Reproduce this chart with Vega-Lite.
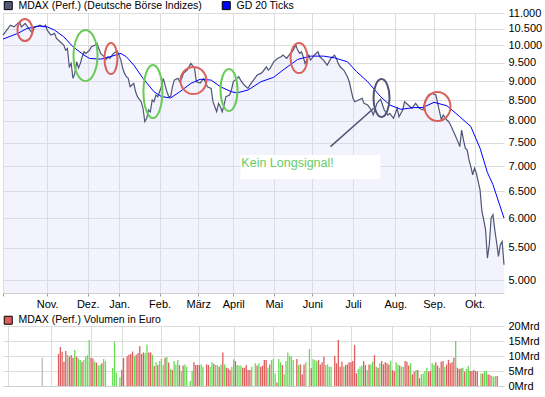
{
"$schema": "https://vega.github.io/schema/vega-lite/v6.json",
"padding": {"left": 0, "top": 0, "right": 0, "bottom": 0},
"background": "white",
"config": {"view": {"stroke": null}, "font": "Liberation Sans"},
"spacing": 33,
"bounds": "flush",
"resolve": {"scale": {"color": "independent", "x": "independent"}, "legend": {"color": "independent"}},
"datasets": {
"legendItems": [{"name": "MDAX (Perf.) (Deutsche Börse Indizes)"}, {"name": "GD 20 Ticks"}],
"price": [
{"t":0,"v":10305},{"t":4,"v":10613},{"t":6,"v":10560},{"t":9,"v":10717},{"t":10,"v":10560},{"t":12,"v":10666},{"t":14,"v":10510},{"t":16,"v":10357},{"t":17,"v":10560},{"t":19,"v":10582},{"t":20,"v":10613},{"t":22,"v":10560},{"t":23,"v":10613},{"t":24,"v":10458},{"t":26,"v":10305},{"t":28,"v":10357},{"t":29,"v":10205},{"t":31,"v":10104},{"t":33,"v":10006},{"t":34,"v":9859},{"t":35,"v":9908},{"t":36,"v":9386},{"t":37,"v":9480},{"t":38,"v":9070},{"t":39,"v":9205},{"t":40,"v":9525},{"t":41,"v":9355},{"t":42,"v":9480},{"t":43,"v":9667},{"t":44,"v":9810},{"t":45,"v":9763},{"t":46,"v":9810},{"t":47,"v":9859},{"t":48,"v":9956},{"t":50,"v":10006},{"t":51,"v":10057},{"t":52,"v":9908},{"t":53,"v":9763},{"t":55,"v":9667},{"t":56,"v":9593},{"t":57,"v":9667},{"t":58,"v":9620},{"t":60,"v":9763},{"t":62,"v":9839},{"t":63,"v":9715},{"t":64,"v":9573},{"t":65,"v":9342},{"t":66,"v":9205},{"t":67,"v":9114},{"t":68,"v":9070},{"t":69,"v":8850},{"t":70,"v":8893},{"t":71,"v":8937},{"t":72,"v":8719},{"t":73,"v":8593},{"t":75,"v":8467},{"t":76,"v":8304},{"t":77,"v":7982},{"t":78,"v":8062},{"t":79,"v":8262},{"t":80,"v":8220},{"t":81,"v":8509},{"t":82,"v":8467},{"t":83,"v":8635},{"t":84,"v":8593},{"t":85,"v":8719},{"t":86,"v":8850},{"t":87,"v":9070},{"t":88,"v":8893},{"t":89,"v":8719},{"t":90,"v":8593},{"t":91,"v":8593},{"t":92,"v":8850},{"t":93,"v":9025},{"t":95,"v":9070},{"t":96,"v":8980},{"t":97,"v":9070},{"t":98,"v":9205},{"t":100,"v":9295},{"t":102,"v":9480},{"t":104,"v":9342},{"t":105,"v":8980},{"t":107,"v":8946},{"t":109,"v":9070},{"t":111,"v":8850},{"t":113,"v":8807},{"t":114,"v":8467},{"t":115,"v":8342},{"t":116,"v":8220},{"t":117,"v":8426},{"t":118,"v":8342},{"t":119,"v":8220},{"t":120,"v":8384},{"t":121,"v":8593},{"t":123,"v":8635},{"t":124,"v":8763},{"t":125,"v":8980},{"t":126,"v":9025},{"t":127,"v":9070},{"t":128,"v":9114},{"t":129,"v":9025},{"t":131,"v":8893},{"t":133,"v":8807},{"t":134,"v":8893},{"t":136,"v":9025},{"t":138,"v":9159},{"t":140,"v":9205},{"t":141,"v":9250},{"t":143,"v":9386},{"t":144,"v":9295},{"t":145,"v":9342},{"t":147,"v":9525},{"t":149,"v":9620},{"t":151,"v":9667},{"t":152,"v":9715},{"t":154,"v":9620},{"t":156,"v":9763},{"t":157,"v":9810},{"t":159,"v":10006},{"t":160,"v":9859},{"t":161,"v":9763},{"t":162,"v":9810},{"t":163,"v":9667},{"t":164,"v":9480},{"t":166,"v":9715},{"t":167,"v":9573},{"t":169,"v":9715},{"t":170,"v":9763},{"t":171,"v":9810},{"t":172,"v":9667},{"t":174,"v":9573},{"t":176,"v":9433},{"t":178,"v":9620},{"t":180,"v":9715},{"t":181,"v":9620},{"t":182,"v":9480},{"t":183,"v":9386},{"t":185,"v":9295},{"t":187,"v":9114},{"t":188,"v":8980},{"t":190,"v":8551},{"t":191,"v":8467},{"t":193,"v":8509},{"t":195,"v":8551},{"t":196,"v":8426},{"t":198,"v":8384},{"t":200,"v":8262},{"t":201,"v":8141},{"t":203,"v":8426},{"t":205,"v":8530},{"t":207,"v":8262},{"t":209,"v":8141},{"t":210,"v":8182},{"t":212,"v":8062},{"t":214,"v":8304},{"t":215,"v":8100},{"t":217,"v":8262},{"t":218,"v":8467},{"t":220,"v":8384},{"t":222,"v":8304},{"t":224,"v":8426},{"t":226,"v":8304},{"t":228,"v":8262},{"t":229,"v":8467},{"t":231,"v":8635},{"t":233,"v":8678},{"t":235,"v":8635},{"t":236,"v":8426},{"t":237,"v":8220},{"t":238,"v":8022},{"t":239,"v":8141},{"t":241,"v":8022},{"t":242,"v":7982},{"t":243,"v":7905},{"t":245,"v":7714},{"t":247,"v":7526},{"t":248,"v":7416},{"t":249,"v":7789},{"t":250,"v":7563},{"t":251,"v":7381},{"t":252,"v":7344},{"t":253,"v":7131},{"t":254,"v":6990},{"t":255,"v":6825},{"t":256,"v":6959},{"t":257,"v":6855},{"t":258,"v":6690},{"t":259,"v":6528},{"t":260,"v":6124},{"t":261,"v":5975},{"t":262,"v":5802},{"t":263,"v":5338},{"t":264,"v":5551},{"t":265,"v":6005},{"t":266,"v":6065},{"t":267,"v":5802},{"t":268,"v":5589},{"t":269,"v":5363},{"t":270,"v":5551},{"t":271,"v":5606},{"t":272,"v":5234}
],
"ma": [
{"t":0,"v":10184},{"t":8,"v":10357},{"t":13,"v":10510},{"t":20,"v":10582},{"t":24,"v":10560},{"t":28,"v":10458},{"t":33,"v":10254},{"t":38,"v":9956},{"t":44,"v":9715},{"t":47,"v":9620},{"t":53,"v":9600},{"t":58,"v":9667},{"t":64,"v":9763},{"t":67,"v":9667},{"t":71,"v":9433},{"t":76,"v":9070},{"t":82,"v":8719},{"t":86,"v":8597},{"t":91,"v":8560},{"t":96,"v":8719},{"t":102,"v":8937},{"t":107,"v":9045},{"t":113,"v":9025},{"t":118,"v":8850},{"t":124,"v":8719},{"t":127,"v":8690},{"t":133,"v":8763},{"t":140,"v":8980},{"t":147,"v":9100},{"t":152,"v":9295},{"t":160,"v":9593},{"t":167,"v":9686},{"t":174,"v":9686},{"t":180,"v":9637},{"t":187,"v":9525},{"t":192,"v":9250},{"t":198,"v":8980},{"t":205,"v":8593},{"t":210,"v":8384},{"t":216,"v":8279},{"t":223,"v":8321},{"t":228,"v":8325},{"t":234,"v":8451},{"t":241,"v":8367},{"t":248,"v":8101},{"t":254,"v":7866},{"t":259,"v":7381},{"t":263,"v":6870},{"t":266,"v":6630},{"t":272,"v":6005}
],
"vol": [
{"t":19,"vol":9.4,"dir":"neutral"},{"t":28,"vol":10.7,"dir":"down"},{"t":29,"vol":13.0,"dir":"down"},{"t":30,"vol":11.4,"dir":"down"},{"t":31,"vol":8.1,"dir":"down"},{"t":32,"vol":11.7,"dir":"down"},{"t":33,"vol":10.3,"dir":"up"},{"t":34,"vol":9.8,"dir":"down"},{"t":35,"vol":10.3,"dir":"down"},{"t":36,"vol":9.4,"dir":"down"},{"t":37,"vol":12.0,"dir":"up"},{"t":38,"vol":9.8,"dir":"down"},{"t":39,"vol":9.2,"dir":"up"},{"t":40,"vol":8.7,"dir":"up"},{"t":41,"vol":8.1,"dir":"down"},{"t":42,"vol":8.7,"dir":"up"},{"t":43,"vol":9.8,"dir":"up"},{"t":44,"vol":10.3,"dir":"up"},{"t":45,"vol":15.3,"dir":"up"},{"t":46,"vol":9.4,"dir":"down"},{"t":47,"vol":9.2,"dir":"down"},{"t":48,"vol":8.1,"dir":"up"},{"t":49,"vol":7.8,"dir":"down"},{"t":50,"vol":6.8,"dir":"up"},{"t":51,"vol":7.0,"dir":"up"},{"t":52,"vol":7.6,"dir":"down"},{"t":53,"vol":9.0,"dir":"up"},{"t":54,"vol":8.3,"dir":"up"},
{"t":58,"vol":6.0,"dir":"up"},{"t":59,"vol":14.9,"dir":"up"},{"t":60,"vol":4.5,"dir":"up"},{"t":62,"vol":2.9,"dir":"up"},{"t":63,"vol":5.4,"dir":"down"},{"t":64,"vol":9.3,"dir":"down"},{"t":66,"vol":9.9,"dir":"down"},{"t":67,"vol":10.4,"dir":"down"},{"t":68,"vol":10.7,"dir":"down"},{"t":69,"vol":11.5,"dir":"down"},{"t":70,"vol":9.9,"dir":"up"},{"t":71,"vol":10.4,"dir":"down"},{"t":72,"vol":11.0,"dir":"down"},{"t":73,"vol":13.3,"dir":"down"},{"t":74,"vol":10.7,"dir":"down"},{"t":75,"vol":11.2,"dir":"down"},{"t":76,"vol":11.0,"dir":"up"},{"t":77,"vol":13.8,"dir":"up"},{"t":78,"vol":11.2,"dir":"down"},{"t":79,"vol":11.2,"dir":"down"},{"t":80,"vol":10.4,"dir":"up"},
{"t":81,"vol":6.7,"dir":"down"},{"t":82,"vol":7.9,"dir":"up"},{"t":83,"vol":7.0,"dir":"down"},{"t":84,"vol":8.3,"dir":"up"},{"t":85,"vol":9.0,"dir":"up"},{"t":86,"vol":7.0,"dir":"up"},{"t":87,"vol":9.4,"dir":"down"},{"t":88,"vol":9.7,"dir":"up"},{"t":89,"vol":7.8,"dir":"down"},{"t":90,"vol":5.7,"dir":"up"},{"t":91,"vol":5.3,"dir":"down"},{"t":92,"vol":8.3,"dir":"up"},{"t":93,"vol":7.2,"dir":"up"},{"t":94,"vol":8.7,"dir":"up"},{"t":95,"vol":7.0,"dir":"down"},{"t":96,"vol":5.0,"dir":"up"},{"t":97,"vol":6.8,"dir":"down"},{"t":98,"vol":7.2,"dir":"up"},{"t":99,"vol":6.4,"dir":"up"},{"t":101,"vol":1.7,"dir":"up"},{"t":102,"vol":5.0,"dir":"up"},{"t":103,"vol":7.9,"dir":"down"},{"t":104,"vol":7.0,"dir":"down"},{"t":105,"vol":7.0,"dir":"down"},{"t":106,"vol":7.0,"dir":"down"},{"t":107,"vol":7.2,"dir":"up"},{"t":108,"vol":6.4,"dir":"up"},{"t":110,"vol":7.2,"dir":"down"},{"t":111,"vol":7.0,"dir":"down"},{"t":112,"vol":6.4,"dir":"up"},{"t":113,"vol":7.9,"dir":"up"},{"t":114,"vol":7.4,"dir":"down"},{"t":115,"vol":7.0,"dir":"up"},{"t":116,"vol":7.0,"dir":"up"},{"t":117,"vol":6.4,"dir":"down"},{"t":118,"vol":7.2,"dir":"up"},{"t":119,"vol":11.2,"dir":"down"},{"t":120,"vol":7.2,"dir":"up"},{"t":121,"vol":6.1,"dir":"down"},{"t":122,"vol":5.9,"dir":"down"},{"t":123,"vol":5.3,"dir":"down"},{"t":124,"vol":6.4,"dir":"up"},{"t":125,"vol":8.9,"dir":"up"},{"t":126,"vol":8.3,"dir":"down"},{"t":127,"vol":7.0,"dir":"up"},{"t":128,"vol":6.8,"dir":"up"},{"t":129,"vol":6.8,"dir":"up"},{"t":130,"vol":6.1,"dir":"down"},{"t":131,"vol":6.1,"dir":"down"},{"t":132,"vol":7.0,"dir":"down"},{"t":133,"vol":5.3,"dir":"down"},{"t":134,"vol":5.3,"dir":"down"},{"t":135,"vol":6.4,"dir":"up"},{"t":137,"vol":7.6,"dir":"up"},{"t":138,"vol":6.8,"dir":"down"},{"t":139,"vol":7.6,"dir":"up"},{"t":140,"vol":6.4,"dir":"down"},{"t":141,"vol":6.8,"dir":"down"},{"t":142,"vol":8.7,"dir":"down"},{"t":143,"vol":8.7,"dir":"down"},{"t":144,"vol":6.1,"dir":"up"},
{"t":145,"vol":7.2,"dir":"down"},{"t":146,"vol":8.7,"dir":"up"},{"t":147,"vol":9.0,"dir":"up"},{"t":148,"vol":4.2,"dir":"up"},{"t":149,"vol":1.2,"dir":"down"},{"t":150,"vol":9.0,"dir":"up"},{"t":151,"vol":7.9,"dir":"up"},{"t":152,"vol":7.0,"dir":"down"},{"t":153,"vol":3.9,"dir":"up"},{"t":154,"vol":8.3,"dir":"up"},{"t":155,"vol":11.2,"dir":"up"},{"t":156,"vol":10.1,"dir":"up"},{"t":157,"vol":9.8,"dir":"up"},{"t":158,"vol":8.7,"dir":"up"},{"t":160,"vol":9.0,"dir":"down"},{"t":161,"vol":7.0,"dir":"up"},{"t":162,"vol":7.2,"dir":"down"},{"t":163,"vol":3.9,"dir":"down"},{"t":164,"vol":7.2,"dir":"down"},{"t":165,"vol":7.9,"dir":"up"},{"t":167,"vol":12.3,"dir":"up"},{"t":168,"vol":5.9,"dir":"down"},{"t":169,"vol":9.0,"dir":"up"},{"t":170,"vol":8.7,"dir":"up"},{"t":171,"vol":8.3,"dir":"up"},{"t":172,"vol":8.7,"dir":"down"},{"t":173,"vol":7.2,"dir":"down"},{"t":174,"vol":7.9,"dir":"down"},{"t":175,"vol":9.8,"dir":"down"},{"t":176,"vol":7.0,"dir":"up"},{"t":177,"vol":7.2,"dir":"up"},{"t":178,"vol":6.4,"dir":"up"},{"t":179,"vol":6.4,"dir":"up"},{"t":181,"vol":10.0,"dir":"down"},{"t":182,"vol":7.6,"dir":"down"},{"t":183,"vol":15.3,"dir":"down"},{"t":184,"vol":6.4,"dir":"down"},{"t":185,"vol":8.1,"dir":"down"},{"t":186,"vol":6.4,"dir":"up"},{"t":187,"vol":7.0,"dir":"down"},{"t":188,"vol":7.2,"dir":"down"},{"t":189,"vol":7.9,"dir":"down"},{"t":190,"vol":7.9,"dir":"down"},{"t":191,"vol":8.3,"dir":"down"},{"t":192,"vol":13.7,"dir":"down"},{"t":193,"vol":4.2,"dir":"down"},{"t":194,"vol":5.7,"dir":"up"},{"t":195,"vol":6.4,"dir":"up"},{"t":196,"vol":6.8,"dir":"up"},{"t":197,"vol":8.3,"dir":"down"},{"t":198,"vol":7.0,"dir":"down"},{"t":199,"vol":5.3,"dir":"up"},{"t":200,"vol":7.2,"dir":"down"},{"t":201,"vol":7.2,"dir":"up"},{"t":202,"vol":8.1,"dir":"up"},{"t":203,"vol":10.3,"dir":"down"},{"t":204,"vol":6.4,"dir":"up"},{"t":205,"vol":6.1,"dir":"down"},{"t":206,"vol":7.6,"dir":"up"},{"t":207,"vol":8.3,"dir":"down"},{"t":208,"vol":7.2,"dir":"down"},{"t":209,"vol":7.9,"dir":"down"},{"t":210,"vol":7.6,"dir":"down"},{"t":211,"vol":7.2,"dir":"down"},{"t":212,"vol":8.3,"dir":"up"},{"t":213,"vol":5.3,"dir":"down"},{"t":214,"vol":5.0,"dir":"down"},{"t":215,"vol":7.9,"dir":"up"},{"t":216,"vol":7.2,"dir":"up"},{"t":217,"vol":6.8,"dir":"down"},{"t":218,"vol":6.4,"dir":"up"},{"t":219,"vol":6.4,"dir":"up"},{"t":220,"vol":8.3,"dir":"down"},{"t":221,"vol":8.1,"dir":"down"},
{"t":222,"vol":6.8,"dir":"down"},{"t":223,"vol":7.6,"dir":"up"},{"t":224,"vol":3.9,"dir":"down"},{"t":225,"vol":4.8,"dir":"down"},{"t":226,"vol":5.3,"dir":"up"},{"t":227,"vol":5.3,"dir":"down"},{"t":228,"vol":2.6,"dir":"down"},{"t":229,"vol":3.9,"dir":"up"},{"t":230,"vol":4.2,"dir":"up"},{"t":231,"vol":5.0,"dir":"up"},{"t":232,"vol":6.1,"dir":"up"},{"t":233,"vol":4.8,"dir":"down"},{"t":234,"vol":5.0,"dir":"down"},{"t":235,"vol":7.6,"dir":"up"},{"t":236,"vol":7.0,"dir":"up"},{"t":237,"vol":7.9,"dir":"down"},{"t":238,"vol":6.8,"dir":"down"},{"t":239,"vol":6.1,"dir":"up"},{"t":240,"vol":8.1,"dir":"down"},{"t":241,"vol":8.3,"dir":"down"},{"t":242,"vol":6.4,"dir":"up"},{"t":243,"vol":7.2,"dir":"down"},{"t":244,"vol":8.7,"dir":"down"},{"t":245,"vol":7.6,"dir":"down"},{"t":246,"vol":7.9,"dir":"down"},{"t":247,"vol":9.4,"dir":"down"},{"t":248,"vol":15.0,"dir":"up"},{"t":249,"vol":6.1,"dir":"down"},{"t":250,"vol":5.7,"dir":"down"},{"t":251,"vol":5.9,"dir":"down"},{"t":252,"vol":6.1,"dir":"up"},{"t":253,"vol":4.8,"dir":"down"},{"t":254,"vol":5.7,"dir":"up"},{"t":255,"vol":6.7,"dir":"up"},{"t":256,"vol":5.0,"dir":"down"},{"t":257,"vol":5.0,"dir":"down"},{"t":258,"vol":5.3,"dir":"down"},{"t":259,"vol":5.0,"dir":"down"},{"t":260,"vol":4.8,"dir":"down"},{"t":262,"vol":4.2,"dir":"up"},{"t":263,"vol":4.2,"dir":"down"},{"t":264,"vol":5.0,"dir":"up"},{"t":265,"vol":5.0,"dir":"up"},{"t":266,"vol":3.9,"dir":"down"},{"t":267,"vol":3.7,"dir":"down"},{"t":268,"vol":3.3,"dir":"up"},{"t":269,"vol":3.1,"dir":"up"},{"t":270,"vol":3.3,"dir":"up"},{"t":271,"vol":3.3,"dir":"down"}
]
},
"vconcat": [
{
"width": 501,
"height": 280,
"layer": [
{"data": {"name": "price"}, "mark": {"type": "area", "color": "#dcdcf8", "opacity": 0.35},
 "encoding": {
  "x": {"field": "t", "type": "quantitative", "scale": {"domain": [0, 272], "nice": false, "zero": false},
   "axis": {"orient": "bottom", "title": null, "values": [0,24,46,63,85,106,125,147,168,190,213,234,256],
    "labelExpr": "['','Nov.','Dez.','Jan.','Feb.','März','April','Mai','Juni','Juli','Aug.','Sep.','Okt.'][indexof([0,24,46,63,85,106,125,147,168,190,213,234,256], datum.value)]",
    "grid": true, "gridColor": "#dcdcdc", "gridWidth": 1, "domainColor": "#cfcfcf", "tickColor": "#999999", "tickSize": 3,
    "labelFont": "Liberation Sans", "labelFontSize": 11, "labelColor": "#000000", "labelPadding": 2, "labelDx": -1, "labelFlush": false, "labelOverlap": false}},
  "y": {"field": "v", "type": "quantitative", "scale": {"type": "log", "domain": [4815, 11000], "nice": false, "zero": false},
   "axis": {"orient": "right", "title": null, "values": [5000,5500,6000,6500,7000,7500,8000,8500,9000,9500,10000,10500,11000],
    "labelExpr": "replace(format(datum.value, ','), ',', '.')",
    "grid": true, "gridColor": "#dcdcdc", "gridWidth": 1, "domain": false, "ticks": false, "labelPadding": 4,
    "labelFont": "Liberation Sans", "labelFontSize": 11, "labelColor": "#000000", "labelFlush": false, "labelOverlap": false}},
  "y2": {"datum": 4815}
 }},
{"data": {"name": "price"}, "mark": {"type": "line", "color": "#4f5577", "strokeWidth": 1.2},
 "encoding": {"x": {"field": "t", "type": "quantitative"}, "y": {"field": "v", "type": "quantitative"}}},
{"data": {"name": "ma"}, "mark": {"type": "line", "color": "#0000ff", "strokeWidth": 1},
 "encoding": {"x": {"field": "t", "type": "quantitative"}, "y": {"field": "v", "type": "quantitative"}}},
{"data": {"values": [{}]}, "mark": {"type": "point", "filled": false, "opacity": 1, "stroke": "#d9625c", "strokeWidth": 2, "size": 484,
 "shape": "M0.682,0C0.682,0.5523,0.3767,1,0,1C-0.3767,1,-0.682,0.5523,-0.682,0C-0.682,-0.5523,-0.3767,-1,0,-1C0.3767,-1,0.682,-0.5523,0.682,0Z"},
 "encoding": {"x": {"datum": 11.9}, "y": {"datum": 10458}}},
{"data": {"values": [{}]}, "mark": {"type": "point", "filled": false, "opacity": 1, "stroke": "#66cc55", "strokeWidth": 2, "size": 2601,
 "shape": "M0.471,0C0.471,0.5523,0.26,1,0,1C-0.26,1,-0.471,0.5523,-0.471,0C-0.471,-0.5523,-0.26,-1,0,-1C0.26,-1,0.471,-0.5523,0.471,0Z"},
 "encoding": {"x": {"datum": 44.8}, "y": {"datum": 9701}}},
{"data": {"values": [{}]}, "mark": {"type": "point", "filled": false, "opacity": 1, "stroke": "#d9625c", "strokeWidth": 2, "size": 961,
 "shape": "M0.419,0C0.419,0.5523,0.2316,1,0,1C-0.2316,1,-0.419,0.5523,-0.419,0C-0.419,-0.5523,-0.2316,-1,0,-1C0.2316,-1,0.419,-0.5523,0.419,0Z"},
 "encoding": {"x": {"datum": 58.6}, "y": {"datum": 9616}}},
{"data": {"values": [{}]}, "mark": {"type": "point", "filled": false, "opacity": 1, "stroke": "#66cc55", "strokeWidth": 2, "size": 2809,
 "shape": "M0.358,0C0.358,0.5523,0.198,1,0,1C-0.198,1,-0.358,0.5523,-0.358,0C-0.358,-0.5523,-0.198,-1,0,-1C0.198,-1,0.358,-0.5523,0.358,0Z"},
 "encoding": {"x": {"datum": 81.4}, "y": {"datum": 8724}}},
{"data": {"values": [{}]}, "mark": {"type": "point", "filled": false, "opacity": 1, "stroke": "#d9625c", "strokeWidth": 2, "size": 729,
 "shape": "M0.963,0C0.963,0.5523,0.532,1,0,1C-0.532,1,-0.963,0.5523,-0.963,0C-0.963,-0.5523,-0.532,-1,0,-1C0.532,-1,0.963,-0.5523,0.963,0Z"},
 "encoding": {"x": {"datum": 103.4}, "y": {"datum": 9012}}},
{"data": {"values": [{}]}, "mark": {"type": "point", "filled": false, "opacity": 1, "stroke": "#66cc55", "strokeWidth": 2, "size": 1764,
 "shape": "M0.405,0C0.405,0.5523,0.2235,1,0,1C-0.2235,1,-0.405,0.5523,-0.405,0C-0.405,-0.5523,-0.2235,-1,0,-1C0.2235,-1,0.405,-0.5523,0.405,0Z"},
 "encoding": {"x": {"datum": 122.7}, "y": {"datum": 8763}}},
{"data": {"values": [{}]}, "mark": {"type": "point", "filled": false, "opacity": 1, "stroke": "#d9625c", "strokeWidth": 2, "size": 900,
 "shape": "M0.567,0C0.567,0.5523,0.313,1,0,1C-0.313,1,-0.567,0.5523,-0.567,0C-0.567,-0.5523,-0.313,-1,0,-1C0.313,-1,0.567,-0.5523,0.567,0Z"},
 "encoding": {"x": {"datum": 160.7}, "y": {"datum": 9630}}},
{"data": {"values": [{}]}, "mark": {"type": "point", "filled": false, "opacity": 1, "stroke": "#4f5577", "strokeWidth": 2, "size": 1444,
 "shape": "M0.421,0C0.421,0.5523,0.2325,1,0,1C-0.2325,1,-0.421,0.5523,-0.421,0C-0.421,-0.5523,-0.2325,-1,0,-1C0.2325,-1,0.421,-0.5523,0.421,0Z"},
 "encoding": {"x": {"datum": 205.5}, "y": {"datum": 8560}}},
{"data": {"values": [{}]}, "mark": {"type": "point", "filled": false, "opacity": 1, "stroke": "#d9625c", "strokeWidth": 2, "size": 841,
 "shape": "M0.897,0C0.897,0.5523,0.4953,1,0,1C-0.4953,1,-0.897,0.5523,-0.897,0C-0.897,-0.5523,-0.4953,-1,0,-1C0.4953,-1,0.897,-0.5523,0.897,0Z"},
 "encoding": {"x": {"datum": 235.9}, "y": {"datum": 8347}}},
{"data": {"values": [{}]}, "mark": {"type": "rule", "color": "#4f5577", "strokeWidth": 1.5},
 "encoding": {"x": {"datum": 177.8}, "y": {"datum": 7416}, "x2": {"datum": 201.3}, "y2": {"datum": 8304}}},
{"data": {"values": [{}]}, "mark": {"type": "rect", "fill": "#ffffff"},
 "encoding": {"x": {"datum": 128.9}, "x2": {"datum": 204.9}, "y": {"datum": 7237}, "y2": {"datum": 6742}}},
{"data": {"values": [{}]}, "mark": {"type": "text", "text": "Kein Longsignal!", "align": "left", "baseline": "alphabetic", "font": "Liberation Sans", "fontSize": 12.5, "color": "#66cc66"},
 "encoding": {"x": {"datum": 129.4}, "y": {"datum": 6985}}},
{"data": {"name": "legendItems"}, "mark": {"type": "square", "opacity": 0, "size": 4},
 "encoding": {"color": {"field": "name", "type": "nominal",
  "scale": {"domain": ["MDAX (Perf.) (Deutsche Börse Indizes)", "GD 20 Ticks"], "range": ["#555a78", "#0000ff"]},
  "legend": {"orient": "none", "legendX": 0, "legendY": -13, "direction": "horizontal", "title": null, "padding": 0,
   "symbolType": "square", "symbolSize": 64, "symbolOpacity": 1, "symbolStrokeColor": "#000000", "symbolStrokeWidth": 1,
   "labelFont": "Liberation Sans", "labelFontSize": 10.5, "labelColor": "#000000", "labelOffset": 5, "labelLimit": 400, "columnPadding": 18}}}}
]
},
{
"width": 501,
"height": 60,
"data": {"name": "vol"},
"mark": {"type": "bar", "size": 1.3},
"encoding": {
 "x": {"field": "t", "type": "quantitative", "scale": {"domain": [0, 272], "nice": false, "zero": false},
  "axis": {"title": null, "values": [0,24,46,63,85,106,125,147,168,190,213,234,256], "labels": false, "ticks": false,
   "grid": true, "gridColor": "#dcdcdc", "domainColor": "#cfcfcf"}},
 "y": {"field": "vol", "type": "quantitative", "scale": {"domain": [0, 20], "nice": false},
  "axis": {"orient": "right", "title": null, "values": [0,5,10,15,20], "labelExpr": "datum.value + 'Mrd'",
   "grid": true, "gridColor": "#dcdcdc", "domain": false, "ticks": false, "labelPadding": 4,
   "labelFont": "Liberation Sans", "labelFontSize": 11, "labelColor": "#000000", "labelFlush": false, "labelOverlap": false}},
 "color": {"field": "dir", "type": "nominal",
  "scale": {"domain": ["down", "up", "neutral"], "range": ["#dd5e5e", "#66dd55", "#bbbbbb"]},
  "legend": {"orient": "none", "legendX": 0, "legendY": -11, "values": ["down"], "labelExpr": "'MDAX (Perf.) Volumen in Euro'",
   "title": null, "padding": 0, "symbolType": "square", "symbolSize": 64, "symbolStrokeColor": "#000000", "symbolStrokeWidth": 1,
   "labelFont": "Liberation Sans", "labelFontSize": 10.5, "labelColor": "#000000", "labelOffset": 5, "labelLimit": 400}}
}
}
]
}
